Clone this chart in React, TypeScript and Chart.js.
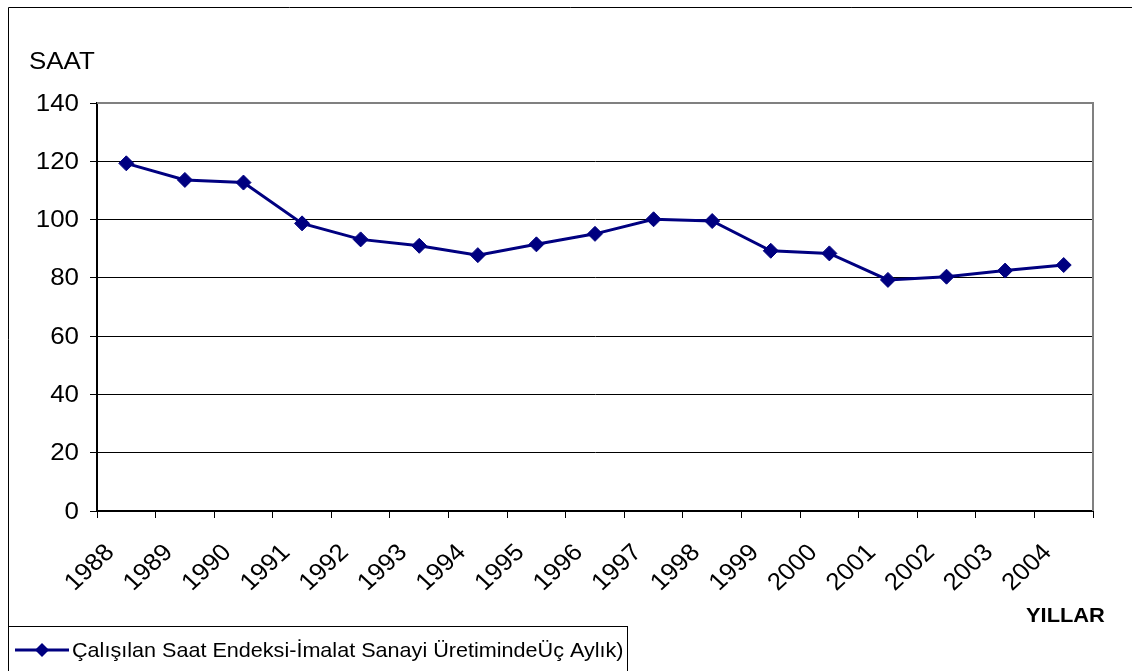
import React, { useEffect, useRef } from "react";
import { Chart, registerables } from "chart.js";

Chart.register(...registerables);

const categories = ["1988","1989","1990","1991","1992","1993","1994","1995","1996","1997","1998","1999","2000","2001","2002","2003","2004"];
const seriesValues = [119.3, 113.6, 112.7, 98.7, 93.2, 91.0, 87.8, 91.5, 95.1, 100.1, 99.5, 89.3, 88.4, 79.3, 80.4, 82.5, 84.4];
const seriesLabel = "Çalışılan Saat Endeksi-İmalat Sanayi ÜretimindeÜç Aylık)";
const yAxisTitle = "SAAT";
const xAxisTitle = "YILLAR";
const yTicks = [0, 20, 40, 60, 80, 100, 120, 140];

const FONT = "'Liberation Sans', Arial, sans-serif";
const NAVY = "#000080";
const SX = 1.08;

function stretchedText(ctx: any, text: string, x: number, y: number, sx: number, align: string, baseline: string, rot = 0) {
  ctx.save();
  ctx.translate(x, y);
  ctx.scale(sx, 1);
  if (rot) ctx.rotate(rot);
  ctx.textAlign = align;
  ctx.textBaseline = baseline;
  ctx.fillText(text, 0, 0);
  ctx.restore();
}

const decorPlugin = {
  id: "decor",
  afterDraw(chart: any) {
    const ctx = chart.ctx;
    const area = chart.chartArea;
    const xs = chart.scales.x;
    const ys = chart.scales.y;
    ctx.save();
    // outer border
    ctx.strokeStyle = "#000";
    ctx.lineWidth = 1;
    ctx.beginPath();
    ctx.moveTo(8.5, 680);
    ctx.lineTo(8.5, 7.5);
    ctx.lineTo(1140, 7.5);
    ctx.stroke();
    // plot top/right border (gray)
    ctx.strokeStyle = "#808080";
    ctx.lineWidth = 2;
    ctx.beginPath();
    ctx.moveTo(area.left, area.top);
    ctx.lineTo(area.right, area.top);
    ctx.lineTo(area.right, area.bottom);
    ctx.stroke();
    ctx.fillStyle = "#000";
    // y tick labels
    ctx.font = `24px ${FONT}`;
    yTicks.forEach((v) => {
      stretchedText(ctx, String(v), 79, ys.getPixelForValue(v) + 1, SX, "right", "middle");
    });
    // x tick labels
    categories.forEach((c, i) => {
      const px = xs.getPixelForValue(i);
      stretchedText(ctx, c, px - 16, 549, SX, "right", "middle", -Math.PI / 4);
    });
    // titles
    ctx.font = `24px ${FONT}`;
    stretchedText(ctx, yAxisTitle, 29, 69, SX, "left", "alphabetic");
    ctx.font = `bold 21px ${FONT}`;
    stretchedText(ctx, xAxisTitle, 1026, 622, 1.04, "left", "alphabetic");
    // legend
    ctx.strokeStyle = "#000";
    ctx.lineWidth = 1;
    ctx.strokeRect(8.5, 626.5, 619, 60);
    ctx.strokeStyle = NAVY;
    ctx.lineWidth = 3;
    ctx.beginPath();
    ctx.moveTo(15, 650);
    ctx.lineTo(69, 650);
    ctx.stroke();
    ctx.fillStyle = NAVY;
    ctx.beginPath();
    ctx.moveTo(42, 643);
    ctx.lineTo(49, 650);
    ctx.lineTo(42, 657);
    ctx.lineTo(35, 650);
    ctx.closePath();
    ctx.fill();
    ctx.fillStyle = "#000";
    ctx.font = `21px ${FONT}`;
    stretchedText(ctx, seriesLabel, 72, 651, 1.028, "left", "middle");
    ctx.restore();
  },
};

export default function App() {
  const ref = useRef<HTMLCanvasElement | null>(null);
  useEffect(() => {
    if (!ref.current) return;
    const chart = new Chart(ref.current, {
      type: "line",
      data: {
        labels: categories,
        datasets: [
          {
            label: seriesLabel,
            data: seriesValues,
            borderColor: NAVY,
            backgroundColor: NAVY,
            borderWidth: 3,
            pointStyle: "rectRot",
            pointRadius: 7.5,
            pointBorderWidth: 1,
            pointBackgroundColor: NAVY,
            pointBorderColor: NAVY,
            tension: 0,
          },
        ],
      },
      options: {
        animation: false,
        responsive: false,
        events: [],
        layout: { padding: { left: 0, top: 103, right: 39, bottom: 0 } },
        plugins: { legend: { display: false }, tooltip: { enabled: false } },
        scales: {
          x: {
            type: "category",
            offset: true,
            afterFit: (s: any) => { s.height = 160; },
            grid: {
              offset: true,
              drawOnChartArea: false,
              drawTicks: true,
              tickLength: 7,
              color: "#000",
            },
            border: { display: true, color: "#000", width: 2 },
            ticks: { display: false, autoSkip: false },
          },
          y: {
            min: 0,
            max: 140,
            afterFit: (s: any) => { s.width = 97; },
            afterBuildTicks: (s: any) => { s.ticks = yTicks.map((v) => ({ value: v })); },
            grid: {
              color: "#000",
              lineWidth: 1,
              drawTicks: true,
              tickLength: 7,
            },
            border: { display: true, color: "#000", width: 2 },
            ticks: { display: false },
          },
        },
      },
      plugins: [decorPlugin],
    });
    return () => chart.destroy();
  }, []);
  return (
    <div style={{ position: "fixed", left: 0, top: 0, width: 1132, height: 671, background: "#fff" }}>
      <canvas ref={ref} width={1132} height={671} style={{ width: 1132, height: 671, display: "block" }} />
    </div>
  );
}
